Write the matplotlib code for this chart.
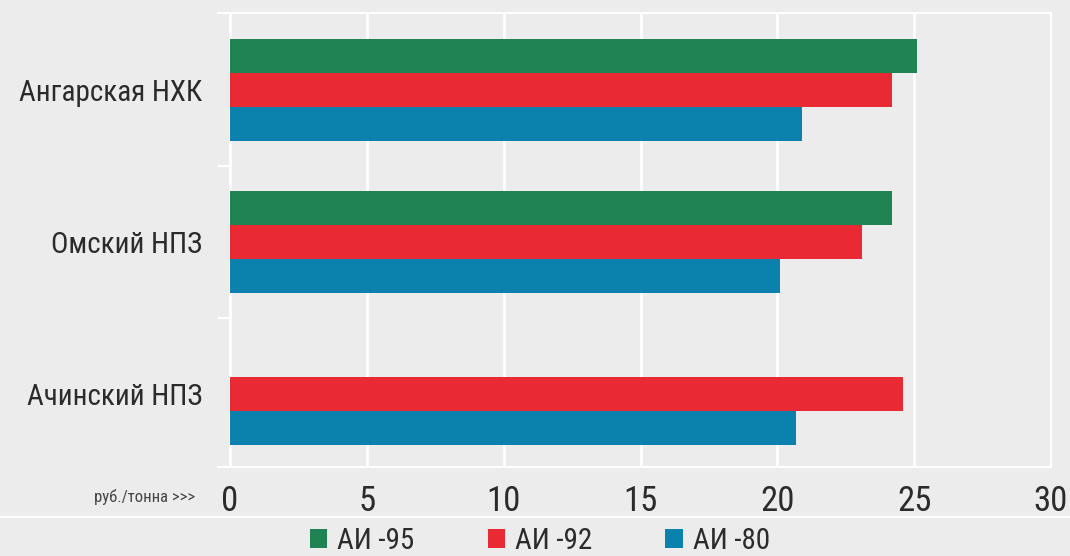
import numpy as np
import matplotlib
matplotlib.use('Agg')
import matplotlib.pyplot as plt
from matplotlib.patches import Patch
from matplotlib.lines import Line2D

# данные
заводы = ['Ангарская НХК', 'Омский НПЗ', 'Ачинский НПЗ']
ai95 = [25.1, 24.2, np.nan]
ai92 = [24.2, 23.1, 24.6]
ai80 = [20.9, 20.1, 20.7]
марки = ['АИ -95', 'АИ -92', 'АИ -80']
цвета = ['#1f8354', '#e92a35', '#0b82ae']
xticks = [0, 5, 10, 15, 20, 25, 30]

bg = '#ebeceb'
txt = '#2b2b2b'
plt.rcParams['font.family'] = ['Roboto Condensed', 'Sofia Sans Condensed', 'DejaVu Sans']

fig = plt.figure(figsize=(10.7, 5.56), dpi=100, facecolor=bg)
W, H = 1070, 556
ax = fig.add_axes([230 / W, 1 - 467 / H, (1051 - 230) / W, (467 - 13) / H])
ax.set_facecolor(bg)

y = np.arange(len(заводы))
h = 0.224
for i, (vals, c) in enumerate(zip([ai95, ai92, ai80], цвета)):
    ax.barh(y + (i - 1) * h, vals, height=h, color=c, zorder=3)

ax.set_xlim(0, 30)
ax.set_ylim(2.48, -0.507)
ax.set_xticks(xticks)
ax.set_xticklabels([str(t) for t in xticks], fontsize=25, color=txt)
ax.tick_params(axis='x', length=0, pad=13)
ax.set_yticks(y)
ax.set_yticklabels(заводы, fontsize=21, color=txt)
ax.tick_params(axis='y', which='major', length=0, pad=20)
ax.set_yticks([0.5, 1.5], minor=True)
ax.tick_params(axis='y', which='minor', length=9, width=1.5, color='white', direction='out')
ax.grid(axis='x', color='white', linewidth=2, zorder=1)
for s in ax.spines.values():
    s.set_color('white')
    s.set_linewidth(1.5)

# верхняя и нижняя рамка чуть левее оси
for yy in (13, 467):
    fig.add_artist(Line2D([218 / W, 231 / W], [1 - yy / H, 1 - yy / H], color='white', linewidth=1.5))

fig.text(195 / W, 1 - 497 / H, 'руб./тонна >>>', ha='right', va='center',
         fontsize=12, color='#444444')

# разделитель над легендой
fig.add_artist(Line2D([0, 1], [1 - 517 / H, 1 - 517 / H], color='white', linewidth=1.5))

handles = [Patch(facecolor=c) for c in цвета]
fig.legend(handles, марки, loc='center', bbox_to_anchor=(540 / W, 1 - 541 / H), ncol=3,
           frameon=False, fontsize=21, handlelength=0.6, handleheight=0.6,
           handletextpad=0.35, columnspacing=2.5, labelcolor=txt)

fig.savefig('out.png', dpi=100, facecolor=bg)
